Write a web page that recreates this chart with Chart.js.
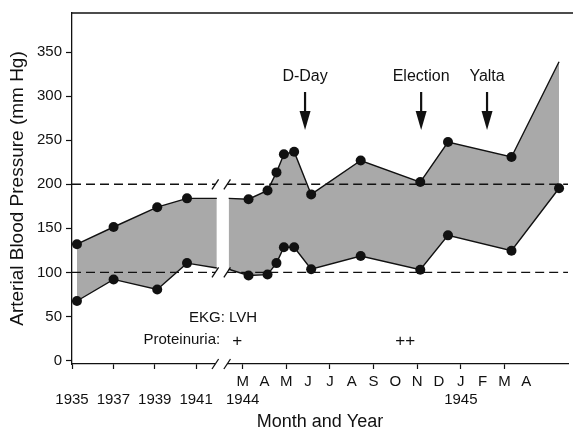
<!DOCTYPE html>
<html>
<head>
<meta charset="utf-8">
<script src="https://cdn.jsdelivr.net/npm/chart.js@4.4.0/dist/chart.umd.min.js"></script>
<style>
  html, body { margin: 0; padding: 0; background: #fff; }
</style>
</head>
<body>
<canvas id="bpChart" width="573" height="431"></canvas>
<script>
// Pre-war readings, dated in decimal years (last entry = edge of the axis break)
var earlyYears = [1935.24, 1937.01, 1939.12, 1940.56, 1942.0];
var earlySystolic = [132, 151.5, 174, 184, 184];
var earlyDiastolic = [67.5, 92, 80.5, 110.5, 105];

// 1944-45 readings, dated in months after 1 March 1944 (first entry = edge of the break)
var lateMonths = [-0.64, 0.27, 1.14, 1.55, 1.89, 2.36, 3.14, 5.41, 8.14, 9.41, 12.32, 14.5];
var lateSystolic = [184, 183, 193, 213.5, 234, 237, 188.5, 227, 202.5, 248, 231, 339];
var lateDiastolic = [103.5, 96.5, 97.5, 110.5, 128.5, 128.5, 103.5, 118.5, 103, 142, 124.5, 195.5];

var yearTicks = [1935, 1937, 1939, 1941];
var monthLabels = ['M', 'A', 'M', 'J', 'J', 'A', 'S', 'O', 'N', 'D', 'J', 'F', 'M', 'A'];
var yTicks = [0, 50, 100, 150, 200, 250, 300, 350];
var referenceLevels = [100, 200];

var eventNames = ['D-Day', 'Election', 'Yalta'];
var eventMonths = [2.86, 8.18, 11.2];

var proteinuriaMonths = [-0.25, 7.45];
var proteinuriaMarks = ['+', '++'];

// Broken time axis: compressed years on the left, months after the break
var YEAR_UNITS = 0.948;
var MONTH_ZERO = 7.82;
function yearPos(y) { return (y - 1935) * YEAR_UNITS; }
function monthPos(m) { return MONTH_ZERO + m; }

var FONT = '"Liberation Sans", Arial, Helvetica, sans-serif';
var INK = '#111';
var FILL = '#a9a9a9';

function toPoints(xs, ys, posFn) {
    return xs.map(function (v, i) { return { x: posFn(v), y: ys[i] }; });
}

function radii(n, hidden) {
    var r = [];
    for (var i = 0; i < n; i++) r.push(hidden.indexOf(i) >= 0 ? 0 : 5);
    return r;
}

var tickValues = yearTicks.map(yearPos).concat(monthLabels.map(function (_, i) { return monthPos(i); }));
var tickLabels = yearTicks.map(function (y) { return ['', String(y)]; }).concat(
    monthLabels.map(function (m, i) {
        if (i === 0) return [m, '1944'];
        if (i === 10) return [m, '1945'];
        return [m];
    }));

function lineSet(data, hidden, fill) {
    return {
        data: data,
        borderColor: INK,
        borderWidth: 1.4,
        backgroundColor: FILL,
        fill: fill,
        tension: 0,
        pointRadius: radii(data.length, hidden),
        pointBackgroundColor: INK,
        pointBorderWidth: 0
    };
}

var decorations = {
    id: 'decorations',
    beforeDatasetsDraw: function (chart) {
        var ctx = chart.ctx, area = chart.chartArea;
        var xs = chart.scales.x, ys = chart.scales.y;
        var s1 = xs.getPixelForValue(yearPos(earlyYears[earlyYears.length - 1])) - 1.5;
        var s2 = xs.getPixelForValue(monthPos(lateMonths[0])) - 1.5;
        ctx.save();
        ctx.strokeStyle = INK;
        ctx.lineWidth = 1.3;
        ctx.setLineDash([9, 5]);
        referenceLevels.forEach(function (lvl) {
            var y = ys.getPixelForValue(lvl);
            ctx.beginPath();
            ctx.moveTo(area.left, y);
            ctx.lineTo(s1, y);
            ctx.moveTo(s2, y);
            ctx.lineTo(area.right, y);
            ctx.stroke();
        });
        ctx.restore();
    },
    afterDraw: function (chart) {
        var ctx = chart.ctx, area = chart.chartArea;
        var xs = chart.scales.x, ys = chart.scales.y;
        var s1 = xs.getPixelForValue(yearPos(earlyYears[earlyYears.length - 1])) - 1.5;
        var s2 = xs.getPixelForValue(monthPos(lateMonths[0])) - 1.5;
        ctx.save();

        // top frame line
        ctx.strokeStyle = INK;
        ctx.lineWidth = 1.3;
        ctx.beginPath();
        ctx.moveTo(area.left, area.top);
        ctx.lineTo(chart.width, area.top);
        ctx.stroke();

        // axis break
        ctx.fillStyle = '#fff';
        ctx.fillRect(s1, area.bottom - 2, s2 - s1, 4);
        var breakYs = referenceLevels.map(function (l) { return ys.getPixelForValue(l); });
        breakYs.push(area.bottom);
        ctx.lineWidth = 1.3;
        breakYs.forEach(function (y) {
            [s1, s2].forEach(function (sx) {
                ctx.beginPath();
                ctx.moveTo(sx - 3.3, y + 5);
                ctx.lineTo(sx + 3.3, y - 5);
                ctx.stroke();
            });
        });

        // event arrows
        ctx.fillStyle = INK;
        ctx.textAlign = 'center';
        ctx.textBaseline = 'middle';
        ctx.font = '16px ' + FONT;
        eventNames.forEach(function (name, i) {
            var x = xs.getPixelForValue(monthPos(eventMonths[i]));
            ctx.fillText(name, x, area.top + 64);
            ctx.lineWidth = 2.2;
            ctx.beginPath();
            ctx.moveTo(x, area.top + 79);
            ctx.lineTo(x, area.top + 100);
            ctx.stroke();
            ctx.beginPath();
            ctx.moveTo(x - 5.5, area.top + 98);
            ctx.lineTo(x + 5.5, area.top + 98);
            ctx.lineTo(x, area.top + 117);
            ctx.closePath();
            ctx.fill();
        });

        // clinical findings
        ctx.font = '15px ' + FONT;
        var firstMark = xs.getPixelForValue(monthPos(proteinuriaMonths[0]));
        ctx.textAlign = 'right';
        ctx.fillText('EKG: LVH', firstMark + 20, area.bottom - 46);
        ctx.fillText('Proteinuria:', firstMark - 17, area.bottom - 24);
        ctx.textAlign = 'center';
        ctx.font = '17px ' + FONT;
        proteinuriaMarks.forEach(function (mark, i) {
            ctx.fillText(mark, xs.getPixelForValue(monthPos(proteinuriaMonths[i])), area.bottom - 23);
        });
        ctx.restore();
    }
};

new Chart(document.getElementById('bpChart'), {
    type: 'line',
    data: {
        datasets: [
            lineSet(toPoints(earlyYears, earlySystolic, yearPos), [4], '+1'),
            lineSet(toPoints(earlyYears, earlyDiastolic, yearPos), [4], false),
            lineSet(toPoints(lateMonths, lateSystolic, monthPos), [0, 11], '+1'),
            lineSet(toPoints(lateMonths, lateDiastolic, monthPos), [0], false)
        ]
    },
    options: {
        responsive: false,
        animation: false,
        layout: { padding: { top: 8, right: 1, left: 0, bottom: 0 } },
        plugins: {
            legend: { display: false },
            tooltip: { enabled: false },
            filler: { drawTime: 'beforeDatasetsDraw' }
        },
        scales: {
            x: {
                type: 'linear',
                min: 0,
                max: 22.73,
                afterFit: function (s) { s.height = 67; },
                afterBuildTicks: function (s) {
                    s.ticks = tickValues.map(function (v) { return { value: v }; });
                },
                border: { display: true, color: INK, width: 1.3 },
                grid: {
                    drawOnChartArea: false,
                    tickLength: 5,
                    tickWidth: 1.2,
                    tickColor: function (c) {
                        var i = c.index - yearTicks.length;
                        return (i < 0 || i % 2 === 0) ? INK : 'rgba(0,0,0,0)';
                    }
                },
                ticks: {
                    autoSkip: false,
                    maxRotation: 0,
                    minRotation: 0,
                    padding: 4,
                    color: INK,
                    font: { family: FONT, size: 15, lineHeight: 1.2 },
                    callback: function (v, i) { return tickLabels[i]; }
                },
                title: {
                    display: true,
                    text: 'Month and Year',
                    color: INK,
                    padding: { top: 0, bottom: 0 },
                    font: { family: FONT, size: 18, lineHeight: 1 }
                }
            },
            y: {
                min: -4,
                max: 394.4,
                afterFit: function (s) { s.width = 72; },
                afterBuildTicks: function (s) {
                    s.ticks = yTicks.map(function (v) { return { value: v }; });
                },
                border: { display: true, color: INK, width: 1.3 },
                grid: { drawOnChartArea: false, tickLength: 6, tickWidth: 1.2, tickColor: INK },
                ticks: {
                    padding: 4,
                    color: INK,
                    font: { family: FONT, size: 15 }
                },
                title: {
                    display: true,
                    text: 'Arterial Blood Pressure (mm Hg)',
                    color: INK,
                    padding: { top: 6, bottom: 0 },
                    font: { family: FONT, size: 19, lineHeight: 1.2 }
                }
            }
        }
    },
    plugins: [decorations]
});
</script>
</body>
</html>
